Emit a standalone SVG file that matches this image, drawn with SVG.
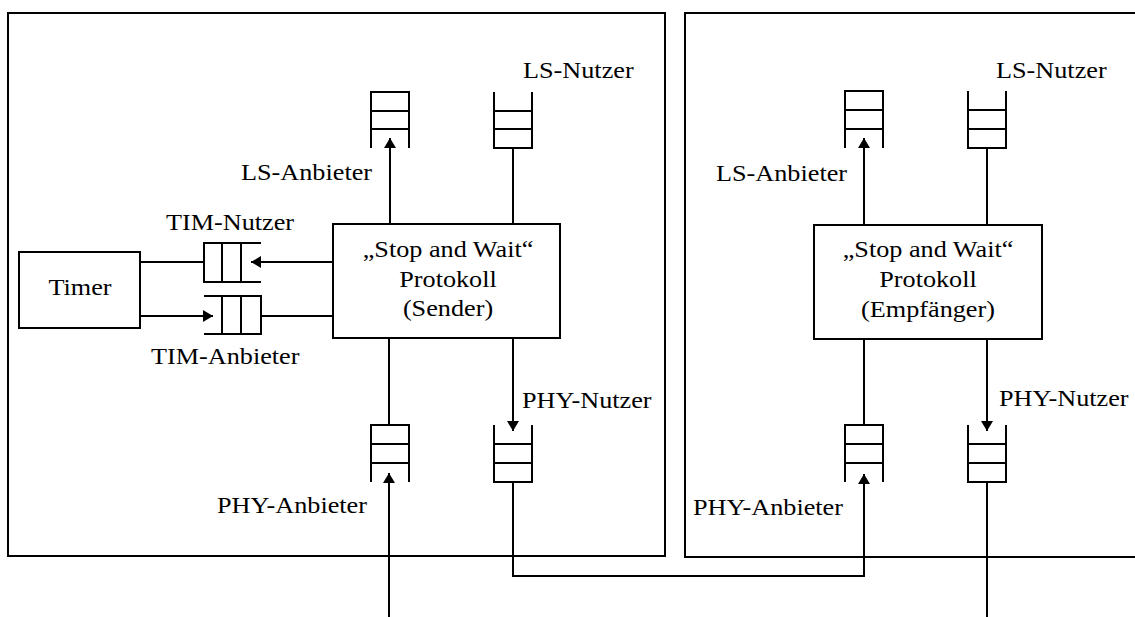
<svg xmlns="http://www.w3.org/2000/svg" width="1135" height="617" viewBox="0 0 1135 617">
<style>
.box{fill:#fff;stroke:#000;stroke-width:2}
.frame{fill:none;stroke:#000;stroke-width:2}
.q{fill:none;stroke:#000;stroke-width:2}
.c{fill:none;stroke:#000;stroke-width:2}
.t{font-family:"Liberation Serif","Times New Roman",serif;font-size:23px;fill:#000}
.m{text-anchor:middle}
</style>
<defs>
<marker id="ah" markerUnits="userSpaceOnUse" markerWidth="11" markerHeight="13" refX="10" refY="6" orient="auto">
<path d="M0,0 L10,6 L0,12 z" fill="#000"/>
</marker>
</defs>
<rect width="1135" height="617" fill="#fff"/>

<g id="panel-sender"><rect class="frame" x="8" y="13" width="657" height="543"/></g>
<g id="panel-receiver"><rect class="frame" x="685" y="13" width="460" height="544"/></g>

<g id="connectors">
<path class="c" d="M140,262 H204"/>
<path class="c" d="M333,262 H251" marker-end="url(#ah)"/>
<path class="c" d="M140,316 H213" marker-end="url(#ah)"/>
<path class="c" d="M261,316 H333"/>
<path class="c" d="M390,224 V138" marker-end="url(#ah)"/>
<path class="c" d="M513,148 V224"/>
<path class="c" d="M389,338 V425"/>
<path class="c" d="M389,617 V473" marker-end="url(#ah)"/>
<path class="c" d="M513,338 V431" marker-end="url(#ah)"/>
<path class="c" d="M513,482 V576 H864 V474" marker-end="url(#ah)"/>
<path class="c" d="M864,225 V138" marker-end="url(#ah)"/>
<path class="c" d="M987,148 V225"/>
<path class="c" d="M864,339 V425"/>
<path class="c" d="M987,339 V431" marker-end="url(#ah)"/>
<path class="c" d="M987,482 V617"/>
</g>

<g id="timer">
<rect class="box" x="19" y="252" width="121" height="76"/>
<text class="t m" transform="matrix(1.14,0,0,1,80,295)">Timer</text>
</g>

<g id="sender">
<rect class="box" x="333" y="224" width="227" height="114"/>
<text class="t m" transform="matrix(1.14,0,0,1,448,257)">„Stop and Wait“</text>
<text class="t m" transform="matrix(1.14,0,0,1,448,287)">Protokoll</text>
<text class="t m" transform="matrix(1.14,0,0,1,448,316)">(Sender)</text>
</g>

<g id="receiver">
<rect class="box" x="814" y="225" width="228" height="114"/>
<text class="t m" transform="matrix(1.14,0,0,1,928,257)">„Stop and Wait“</text>
<text class="t m" transform="matrix(1.14,0,0,1,928,287)">Protokoll</text>
<text class="t m" transform="matrix(1.14,0,0,1,928,317)">(Empfänger)</text>
</g>

<g id="q-tim-nutzer">
<path class="q" d="M261,243 H204 V282 H261 M222,243 V282 M241,243 V282"/>
<text class="t" transform="matrix(1.14,0,0,1,166,230)">TIM-Nutzer</text>
</g>
<g id="q-tim-anbieter">
<path class="q" d="M204,296 H261 V334 H204 M222,296 V334 M241,296 V334"/>
<text class="t" transform="matrix(1.14,0,0,1,151,364)">TIM-Anbieter</text>
</g>

<g id="q-ls-anbieter-s">
<path class="q" d="M371,148 V92 H409 V148 M371,111 H409 M371,129 H409"/>
<text class="t" transform="matrix(1.14,0,0,1,241,180)">LS-Anbieter</text>
</g>
<g id="q-ls-nutzer-s">
<path class="q" d="M494,92 V148 H532 V92 M494,111 H532 M494,129 H532"/>
<text class="t" transform="matrix(1.14,0,0,1,523,78)">LS-Nutzer</text>
</g>
<g id="q-phy-anbieter-s">
<path class="q" d="M371,482 V425 H409 V482 M371,444 H409 M371,463 H409"/>
<text class="t" transform="matrix(1.14,0,0,1,217,513)">PHY-Anbieter</text>
</g>
<g id="q-phy-nutzer-s">
<path class="q" d="M494,425 V482 H532 V425 M494,444 H532 M494,463 H532"/>
<text class="t" transform="matrix(1.14,0,0,1,522,408)">PHY-Nutzer</text>
</g>

<g id="q-ls-anbieter-r">
<path class="q" d="M845,148 V91 H883 V148 M845,110 H883 M845,129 H883"/>
<text class="t" transform="matrix(1.14,0,0,1,716,181)">LS-Anbieter</text>
</g>
<g id="q-ls-nutzer-r">
<path class="q" d="M968,91 V148 H1006 V91 M968,110 H1006 M968,129 H1006"/>
<text class="t" transform="matrix(1.14,0,0,1,996,78)">LS-Nutzer</text>
</g>
<g id="q-phy-anbieter-r">
<path class="q" d="M845,482 V425 H883 V482 M845,444 H883 M845,463 H883"/>
<text class="t" transform="matrix(1.14,0,0,1,693,515)">PHY-Anbieter</text>
</g>
<g id="q-phy-nutzer-r">
<path class="q" d="M968,425 V482 H1006 V425 M968,444 H1006 M968,463 H1006"/>
<text class="t" transform="matrix(1.14,0,0,1,999,406)">PHY-Nutzer</text>
</g>
</svg>
